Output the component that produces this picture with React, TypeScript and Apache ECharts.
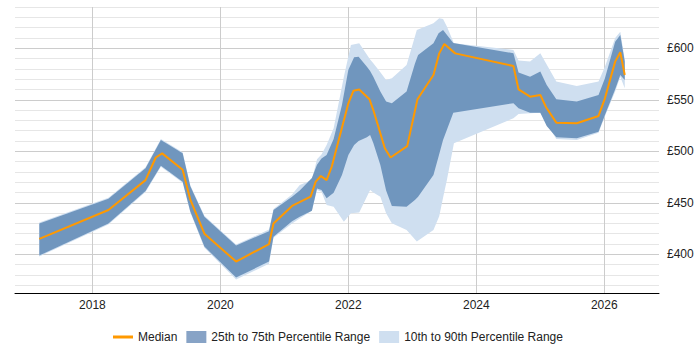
import React, { useEffect, useRef } from "react";
import * as echarts from "echarts";

// Median (year, £)
const medianX = [2017.17, 2018.25, 2018.83, 2018.99, 2019.09, 2019.41, 2019.53, 2019.75, 2020.245, 2020.76, 2020.83, 2021.12, 2021.41, 2021.49, 2021.57, 2021.66, 2021.74, 2022.0, 2022.08, 2022.17, 2022.33, 2022.39, 2022.57, 2022.66, 2022.92, 2023.08, 2023.33, 2023.42, 2023.5, 2023.67, 2024.58, 2024.66, 2024.84, 2025.0, 2025.09, 2025.25, 2025.57, 2025.91, 2026.01, 2026.17, 2026.25, 2026.32];
const medianY = [415, 443, 472, 494, 498, 482, 453, 420, 393, 410, 430, 447, 456, 470.5, 476, 472, 485, 546.6, 558.8, 560, 550.5, 540, 503, 494, 505, 550.5, 574, 595, 604, 595, 582.7, 560, 553, 554.7, 542.7, 527.8, 527.2, 534.3, 551.4, 587, 596, 574];

// 25th / 75th percentiles
const iqrX = [2017.17, 2018.25, 2018.83, 2019.07, 2019.41, 2019.53, 2019.75, 2020.245, 2020.76, 2020.83, 2021.12, 2021.24, 2021.43, 2021.51, 2021.58, 2021.66, 2021.77, 2021.9, 2022.0, 2022.09, 2022.16, 2022.29, 2022.34, 2022.39, 2022.5, 2022.59, 2022.68, 2022.91, 2023.04, 2023.09, 2023.33, 2023.41, 2023.48, 2023.64, 2024.58, 2024.66, 2024.84, 2025.0, 2025.1, 2025.25, 2025.57, 2025.91, 2026.01, 2026.17, 2026.25, 2026.32];
const p25 = [399, 430, 461.5, 486, 470.5, 441.5, 407.5, 377.5, 393, 417, 432, 436.5, 442.4, 464, 462.4, 454.4, 459.8, 477, 496.4, 506, 510, 513.6, 515.8, 508, 486.7, 462, 446.9, 446.2, 452.7, 456, 477, 495, 511, 537.5, 546.6, 541.7, 537.5, 537.5, 524.6, 513.6, 512.6, 519, 535.2, 560.2, 574.1, 569.2];
const p75 = [430, 454, 483.5, 511, 498, 466, 436.5, 408.5, 422.5, 443, 456, 462, 474, 487, 493, 496.4, 512, 545, 579, 591.3, 591.8, 582, 578, 572.4, 557.9, 548.2, 546.6, 557.9, 585, 593.5, 604.8, 614.6, 617.8, 605, 595.1, 576.4, 572.4, 577.3, 564.4, 550.5, 548.2, 554.7, 570.8, 606.4, 612.9, 587];

// 10th / 90th percentiles
const outerX = [2017.17, 2018.25, 2018.83, 2019.07, 2019.41, 2019.53, 2019.75, 2020.245, 2020.76, 2020.83, 2021.12, 2021.24, 2021.43, 2021.51, 2021.58, 2021.66, 2021.77, 2021.93, 2022.04, 2022.17, 2022.34, 2022.39, 2022.5, 2022.59, 2022.68, 2022.91, 2023.07, 2023.33, 2023.42, 2023.48, 2023.54, 2023.65, 2024.58, 2024.66, 2024.84, 2025.0, 2025.25, 2025.57, 2025.91, 2026.01, 2026.17, 2026.25, 2026.32];
const p10 = [398, 429, 460.5, 485, 469.5, 440.5, 406.5, 375.5, 391, 416, 430, 434.9, 442.4, 462.4, 460.8, 447.9, 446.2, 431.7, 439.8, 440.5, 462.4, 460, 455.9, 440, 430.1, 423.6, 412.5, 423.6, 437, 455, 472.1, 507.8, 532, 536.2, 537, 537.5, 512, 511, 518, 534, 557.9, 572.4, 561.2];
const p90 = [431, 455, 484.5, 512, 499, 467, 437.5, 409.5, 424, 444, 458, 467.3, 472.1, 492.2, 497, 506.1, 522.3, 572.4, 603.2, 604.8, 589, 585.4, 576.8, 569.2, 570.8, 583.8, 617.8, 624.3, 629.1, 628.4, 621, 604.8, 598.3, 588, 587, 595.1, 567.6, 563.4, 567.6, 582, 610, 616, 588.7];

const yearTicks = [2018, 2020, 2022, 2024, 2026];
const priceLabels = [400, 450, 500, 550, 600];
const minorLines = [370, 380, 390, 410, 420, 430, 440, 460, 470, 480, 490, 510, 520, 530, 540, 560, 570, 580, 590, 610, 620, 630, 640];

const MEDIAN_COLOR = "#ff9900";
const DARK = "#7096be";
const LIGHT = "#cfdff0";
const FONT = "Liberation Sans, Arial, sans-serif";

function bandSeries(name: string, xs: number[], lo: number[], hi: number[], color: string, z: number) {
  return {
    name,
    type: "custom",
    z,
    silent: true,
    clip: true,
    color,
    itemStyle: { color },
    data: xs.map((x, i) => [x, lo[i], hi[i]]),
    encode: { x: 0, y: [1, 2] },
    renderItem: (params: any, api: any) => {
      if (params.dataIndex !== 0) return null;
      const top = xs.map((x, i) => api.coord([x, hi[i]]));
      const bottom = xs.map((x, i) => api.coord([x, lo[i]])).reverse();
      return {
        type: "polygon",
        shape: { points: top.concat(bottom) },
        style: { fill: color, stroke: "none" },
        silent: true,
      };
    },
  };
}

export default function App() {
  const ref = useRef<HTMLDivElement>(null);
  useEffect(() => {
    if (!ref.current) return;
    const chart = echarts.init(ref.current, undefined, { renderer: "svg" });
    const yBase = {
      type: "value",
      min: 362.5,
      max: 640,
      position: "right",
      axisLine: { show: false },
    };
    chart.setOption({
      animation: false,
      textStyle: { fontFamily: FONT },
      grid: { left: 15, right: 41, top: 7, bottom: 57 },
      legend: {
        left: 108,
        top: 326,
        itemWidth: 20,
        itemHeight: 12,
        itemGap: 9,
        textStyle: { fontSize: 12, color: "#222", fontFamily: FONT },
        data: [
          { name: "Median", icon: "path://M0,5 L20,5 L20,8 L0,8 Z", itemStyle: { color: MEDIAN_COLOR } },
          { name: "25th to 75th Percentile Range", icon: "rect", itemStyle: { color: "#87a3c6" } },
          { name: "10th to 90th Percentile Range", icon: "rect", itemStyle: { color: LIGHT } },
        ],
      },
      xAxis: {
        type: "value",
        min: 2016.79,
        max: 2026.855,
        axisLine: { show: true, lineStyle: { color: "#000", width: 1 } },
        axisTick: { show: false, customValues: yearTicks },
        axisLabel: {
          customValues: yearTicks,
          formatter: (v: number) => String(v),
          color: "#222",
          fontSize: 12,
          margin: 6,
          fontFamily: FONT,
        },
        splitLine: { show: true, lineStyle: { color: "#cccccc", width: 1 } },
      },
      yAxis: [
        {
          ...yBase,
          axisTick: { show: false, customValues: minorLines },
          axisLabel: {
            customValues: priceLabels,
            formatter: (v: number) => "£" + v,
            color: "#222",
            fontSize: 12,
            margin: 8,
            fontFamily: FONT,
          },
          splitLine: { show: true, lineStyle: { color: "#e6e6e6", width: 1 } },
        },
        {
          ...yBase,
          axisTick: { show: false, customValues: priceLabels },
          axisLabel: { show: false },
          splitLine: { show: true, lineStyle: { color: "#cccccc", width: 1 } },
        },
      ],
      series: [
        bandSeries("10th to 90th Percentile Range", outerX, p10, p90, LIGHT, 1),
        bandSeries("25th to 75th Percentile Range", iqrX, p25, p75, DARK, 2),
        {
          name: "Median",
          type: "line",
          data: medianX.map((x, i) => [x, medianY[i]]),
          symbol: "none",
          color: MEDIAN_COLOR,
          lineStyle: { color: MEDIAN_COLOR, width: 2 },
          z: 3,
        },
      ],
    });
    return () => chart.dispose();
  }, []);
  return <div ref={ref} style={{ width: 700, height: 350, position: "absolute", left: 0, top: 0 }} />;
}
